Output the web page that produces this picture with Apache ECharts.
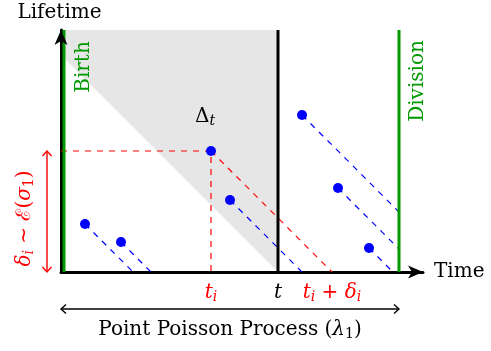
<!DOCTYPE html>
<html>
<head>
<meta charset="utf-8">
<script src="https://cdn.jsdelivr.net/npm/echarts@6/dist/echarts.min.js"></script>
<style>
  html, body { margin: 0; padding: 0; background: #ffffff; }
  #chart { width: 491px; height: 351px; }
</style>
</head>
<body>
<div id="chart"></div>
<script>
// Cells: birth time and lifetime of each cell
const birthTimes = [2.1, 5.7, 14.7, 16.6, 23.8, 27.4, 30.5];
const lifetimes  = [4.8, 3.0, 12.1, 7.2, 15.7, 8.4, 2.4];
const markedCell = 2;          // the cell i whose lifetime delta_i is annotated

// Reference times on the time axis
const tBirth = 0;
const tNow = 21.4;
const tDivision = 33.5;

// Axis extents
const timeMin = -0.3, timeMax = 35.9;
const lifetimeMax = 24.2;

const SERIF = '"DejaVu Serif", serif';
const GREEN = '#009900';
const BLUE = '#0000ff';
const RED = '#ff0000';

// A cell born at b with lifetime l dies at b + l; stop at the division line.
function trajectoryEnd(b, l) {
  const tEnd = b + l;
  if (tEnd <= tDivision) return [tEnd, 0];
  return [tDivision, tEnd - tDivision];
}

const chart = echarts.init(document.getElementById('chart'), null, { renderer: 'canvas' });

const series = [];

// Cells alive at time t: born before t, dying after t
series.push({
  type: 'line',
  data: [[tBirth, tNow - tBirth], [tNow, 0]],
  symbol: 'none',
  lineStyle: { width: 0 },
  areaStyle: { origin: 'end', color: '#e6e6e6', opacity: 1 },
  z: 1,
  silent: true
});

// Dashed ageing trajectories
birthTimes.forEach(function (b, i) {
  const l = lifetimes[i];
  series.push({
    type: 'line',
    data: [[b, l], trajectoryEnd(b, l)],
    symbol: 'none',
    lineStyle: { color: i === markedCell ? RED : BLUE, width: 1.2, type: [6, 6] },
    z: 3,
    silent: true
  });
});

// Guides from the marked cell to both axes
series.push({
  type: 'line',
  data: [[timeMin, lifetimes[markedCell]], [birthTimes[markedCell], lifetimes[markedCell]], [birthTimes[markedCell], 0]],
  symbol: 'none',
  lineStyle: { color: RED, width: 1.2, type: [6, 6] },
  z: 3,
  silent: true
});

// Birth, current time and division lines
[[tBirth, GREEN], [tDivision, GREEN], [tNow, '#000000']].forEach(function (v) {
  series.push({
    type: 'line',
    data: [[v[0], 0], [v[0], lifetimeMax]],
    symbol: 'none',
    lineStyle: { color: v[1], width: 3 },
    z: 4,
    silent: true
  });
});

// Cells as points
series.push({
  type: 'scatter',
  data: birthTimes.map(function (b, i) { return [b, lifetimes[i]]; }),
  symbolSize: 10,
  itemStyle: { color: BLUE, opacity: 1 },
  z: 6,
  silent: true
});

const axisCommon = {
  type: 'value',
  axisTick: { show: false },
  axisLabel: { show: false },
  splitLine: { show: false },
  axisLine: { show: true, onZero: false, lineStyle: { color: '#000000', width: 3 } }
};

chart.setOption({
  animation: false,
  backgroundColor: '#ffffff',
  grid: { left: 61, right: 68, top: 30, bottom: 79, containLabel: false },
  xAxis: Object.assign({}, axisCommon, { min: timeMin, max: timeMax }),
  yAxis: Object.assign({}, axisCommon, { min: 0, max: lifetimeMax }),
  series: series
});

// Annotations placed through the chart's own coordinate system
const px = function (x, y) { return chart.convertToPixel({ gridIndex: 0 }, [x, y]); };

const mathRich = {
  it: { fontFamily: SERIF, fontStyle: 'italic', fontSize: 20 },
  rm: { fontFamily: SERIF, fontSize: 20 },
  sub: { fontFamily: SERIF, fontStyle: 'italic', fontSize: 14, padding: [9, 0, 0, 0] },
  subrm: { fontFamily: SERIF, fontSize: 14, padding: [9, 0, 0, 0] }
};

function richStyle(color) {
  const r = {};
  Object.keys(mathRich).forEach(function (k) {
    r[k] = Object.assign({}, mathRich[k], { fill: color, color: color });
  });
  return r;
}

function textEl(x, y, text, color, opts) {
  opts = opts || {};
  return {
    type: 'text',
    x: x, y: y,
    rotation: opts.rotation || 0,
    z: 100,
    silent: true,
    style: {
      text: text,
      fill: color,
      font: (opts.size || 20) + 'px ' + SERIF,
      align: opts.align || 'center',
      verticalAlign: 'middle',
      rich: richStyle(color)
    }
  };
}

// Thin double-headed arrow with open heads
function doubleArrow(p1, p2, color, vertical) {
  const h = 5, w = 4.5;
  const els = [{
    type: 'line', z: 100, silent: true,
    shape: { x1: p1[0], y1: p1[1], x2: p2[0], y2: p2[1] },
    style: { stroke: color, lineWidth: 1.4 }
  }];
  let heads;
  if (vertical) {
    heads = [
      [[p1[0] - w, p1[1] + h], [p1[0], p1[1]], [p1[0] + w, p1[1] + h]],
      [[p2[0] - w, p2[1] - h], [p2[0], p2[1]], [p2[0] + w, p2[1] - h]]
    ];
  } else {
    heads = [
      [[p1[0] + h, p1[1] - w], [p1[0], p1[1]], [p1[0] + h, p1[1] + w]],
      [[p2[0] - h, p2[1] - w], [p2[0], p2[1]], [p2[0] - h, p2[1] + w]]
    ];
  }
  heads.forEach(function (pts) {
    els.push({
      type: 'polyline', z: 100, silent: true,
      shape: { points: pts },
      style: { stroke: color, lineWidth: 1.4, fill: null }
    });
  });
  return els;
}

// Filled arrow head at the end of an axis; dir = unit vector of the axis
function axisHead(tip, dir) {
  const len = 15, half = 6.5, notch = 4;
  const nx = -dir[1], ny = dir[0];
  const bx = tip[0] - dir[0] * len, by = tip[1] - dir[1] * len;
  return {
    type: 'polygon', z: 100, silent: true,
    shape: { points: [
      tip,
      [bx + nx * half, by + ny * half],
      [tip[0] - dir[0] * (len - notch), tip[1] - dir[1] * (len - notch)],
      [bx - nx * half, by - ny * half]
    ] },
    style: { fill: '#000000' }
  };
}

const bi = birthTimes[markedCell], li = lifetimes[markedCell];
const origin = px(timeMin, 0);
const graphic = [];

// Axis arrow heads
graphic.push(axisHead(px(timeMax, 0), [1, 0]));
graphic.push(axisHead(px(timeMin, lifetimeMax), [0, -1]));

// Axis titles
graphic.push(textEl(59.5, 13, 'Lifetime', '#000000'));
graphic.push(textEl(434, 272, 'Time', '#000000', { align: 'left' }));

// Vertical line labels
const pBirth = px(tBirth, 20.5);
graphic.push(textEl(pBirth[0] + 20, pBirth[1], 'Birth', GREEN, { rotation: Math.PI / 2 }));
const pDiv = px(tDivision, 19.1);
graphic.push(textEl(pDiv[0] + 19, pDiv[1], 'Division', GREEN, { rotation: Math.PI / 2 }));

// Region label
const pDelta = px(14.1, 15.5);
graphic.push(textEl(pDelta[0], pDelta[1], '{rm|Δ}{sub|t}', '#000000'));

// Time-axis labels
const pti = px(bi, 0), pt = px(tNow, 0), ptd = px(bi + li, 0);
graphic.push(textEl(pti[0], pti[1] + 21, '{it|t}{sub|i}', RED));
graphic.push(textEl(pt[0], pt[1] + 21, '{it|t}', '#000000'));
graphic.push(textEl(ptd[0], ptd[1] + 21, '{it|t}{sub|i}{rm| + }{it|δ}{sub|i}', RED));

// Poisson process span
const pA = [origin[0], origin[1] + 37];
const pB = [px(tDivision, 0)[0], origin[1] + 37];
doubleArrow(pA, pB, '#000000', false).forEach(function (e) { graphic.push(e); });
graphic.push(textEl((pA[0] + pB[0]) / 2, pA[1] + 21, '{rm|Point Poisson Process (}{it|λ}{subrm|1}{rm|)}', '#000000'));

// Lifetime of the marked cell
const ax = origin[0] - 14;
const pTop = [ax, px(0, li)[1]];
const pBot = [ax, origin[1]];
doubleArrow(pTop, pBot, RED, true).forEach(function (e) { graphic.push(e); });
graphic.push(textEl(ax - 22, (pTop[1] + pBot[1]) / 2 + 7,
  '{it|δ}{sub|i}{rm| ∼ ℰ(}{it|σ}{subrm|1}{rm|)}', RED, { rotation: Math.PI / 2 }));

chart.setOption({ graphic: graphic });
</script>
</body>
</html>
